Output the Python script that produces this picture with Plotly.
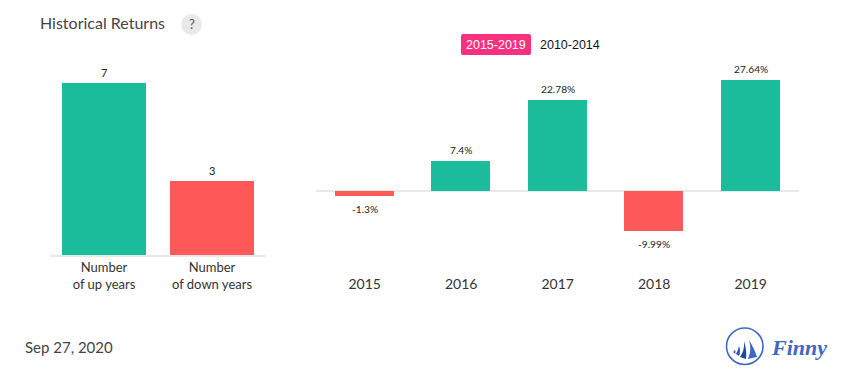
import plotly.graph_objects as go

count_labels = ["Number<br>of up years", "Number<br>of down years"]
count_values = [7, 3]
years = ["2015", "2016", "2017", "2018", "2019"]
returns = [-1.3, 7.4, 22.78, -9.99, 27.64]
return_labels = ["-1.3%", "7.4%", "22.78%", "-9.99%", "27.64%"]

GREEN = "#1abc9c"
RED = "#ff5858"
W, H = 855, 382
FONT = "Lato"


def X(p):
    return p / W


def Y(p):
    return 1 - p / H


def col(v):
    return GREEN if v > 0 else RED


fig = go.Figure()
fig.add_bar(x=[0, 1], y=count_values, width=84 / 108,
            marker=dict(color=[GREEN, RED], line_width=0),
            xaxis="x", yaxis="y", hoverinfo="skip", showlegend=False)
fig.add_bar(x=list(range(5)), y=returns, width=59 / 96.5,
            marker=dict(color=[col(v) for v in returns], line_width=0),
            xaxis="x2", yaxis="y2", hoverinfo="skip", showlegend=False)

ann = []
for i, v in enumerate(count_values):
    ann.append(dict(x=i, y=v, xref="x", yref="y", text=str(v), showarrow=False,
                    yanchor="middle", yshift=11, font=dict(size=11, color="#222", family=FONT)))
for i, (v, t) in enumerate(zip(returns, return_labels)):
    ann.append(dict(x=i, y=v, xref="x2", yref="y2", text=t, showarrow=False,
                    yanchor="middle", yshift=11 if v > 0 else -13,
                    font=dict(size=10.2, color="#222", family=FONT)))


def text(px, py, t, size, color, family=FONT, anchor="left", **kw):
    ann.append(dict(x=X(px), y=Y(py), xref="paper", yref="paper", text=t, showarrow=False,
                    xanchor=anchor, yanchor="middle",
                    font=dict(size=size, color=color, family=family), **kw))


text(38, 23, "Historical Returns", 16, "#444444")
text(191.5, 24, "?", 13, "#555555", anchor="center")
text(496, 45, "2015-2019", 12.5, "#ffffff", family="Liberation Sans", anchor="center")
text(570, 45, "2010-2014", 12.5, "#111111", family="Liberation Sans", anchor="center")
text(23, 347, "Sep 27, 2020", 15, "#444444")
text(769, 347, "<b><i>Finny</i></b>", 22, "#3f66c4", family="Liberation Serif")


def curved(d):
    out = []
    for tok in d.split():
        if "," in tok:
            a, b = tok.split(",")
            out.append(f"{X(float(a)):.5f},{Y(float(b)):.5f}")
        else:
            out.append(tok)
    return " ".join(out)


shapes = [
    dict(type="circle", xref="paper", yref="paper", x0=X(181), x1=X(202), y0=Y(14), y1=Y(35),
         fillcolor="#e9e9e9", line_width=0),
    dict(type="path", xref="paper", yref="paper", fillcolor="#f8317f", line_width=0,
         path=curved("M 463,34 L 529,34 Q 531,34 531,36 L 531,53 Q 531,55 529,55 L 463,55 "
                     "Q 461,55 461,53 L 461,36 Q 461,34 463,34 Z")),
    dict(type="circle", xref="paper", yref="paper", x0=X(726.5), x1=X(763), y0=Y(328), y1=Y(364.5),
         fillcolor="rgba(0,0,0,0)", line=dict(color="#3f66c4", width=1.6)),
    dict(type="path", xref="paper", yref="paper", fillcolor="#3f66c4", line_width=0,
         path=curved("M 749,340 Q 755,350 757,357 Q 752,358 748,359 Q 752,350 749,340 Z")),
    dict(type="path", xref="paper", yref="paper", fillcolor="#1f45a8", line_width=0,
         path=curved("M 744,341 Q 747,351 746,359 L 740,357 Q 745,350 744,341 Z")),
    dict(type="path", xref="paper", yref="paper", fillcolor="#2f55b5", line_width=0,
         path=curved("M 739,346 Q 741,351 739,356 L 736,354 Q 738,351 739,346 Z")),
    dict(type="path", xref="paper", yref="paper", fillcolor="#3f66c4", line_width=0,
         path=curved("M 735,349 Q 736,352 735,354 L 733,352 Q 735,351 735,349 Z")),
]

fig.update_layout(
    width=W, height=H, margin=dict(l=0, r=0, t=0, b=0),
    paper_bgcolor="#ffffff", plot_bgcolor="#ffffff", bargap=0,
    showlegend=False, annotations=ann, shapes=shapes,
    font=dict(family=FONT),
    xaxis=dict(domain=[X(50), X(266)], range=[-0.5, 1.5], tickmode="array", tickvals=[0, 1],
               ticktext=count_labels, showgrid=False, zeroline=False, showline=True,
               linecolor="#e8e8e8", linewidth=1.5, ticks="", tickfont=dict(size=13, color="#333", family=FONT)),
    yaxis=dict(domain=[Y(255), Y(60)], range=[0, 195 / 24.57], anchor="x", visible=False),
    xaxis2=dict(domain=[X(316.45), X(798.95)], range=[-0.5, 4.5], tickmode="array", tickvals=list(range(5)),
                ticktext=years, showgrid=False, zeroline=False, showline=False, ticks="",
                anchor="y2", tickfont=dict(size=14, color="#333", family=FONT)),
    yaxis2=dict(domain=[Y(274), Y(60)], range=[-83 / 4.016, 131 / 4.016], anchor="x2",
                showgrid=False, zeroline=True, zerolinecolor="#e8e8e8", zerolinewidth=1.5,
                showticklabels=False, ticks=""),
)
fig.write_html("out.html", config=dict(displayModeBar=False),
               post_script="document.body.style.margin='0';document.documentElement.style.overflow='hidden';")
